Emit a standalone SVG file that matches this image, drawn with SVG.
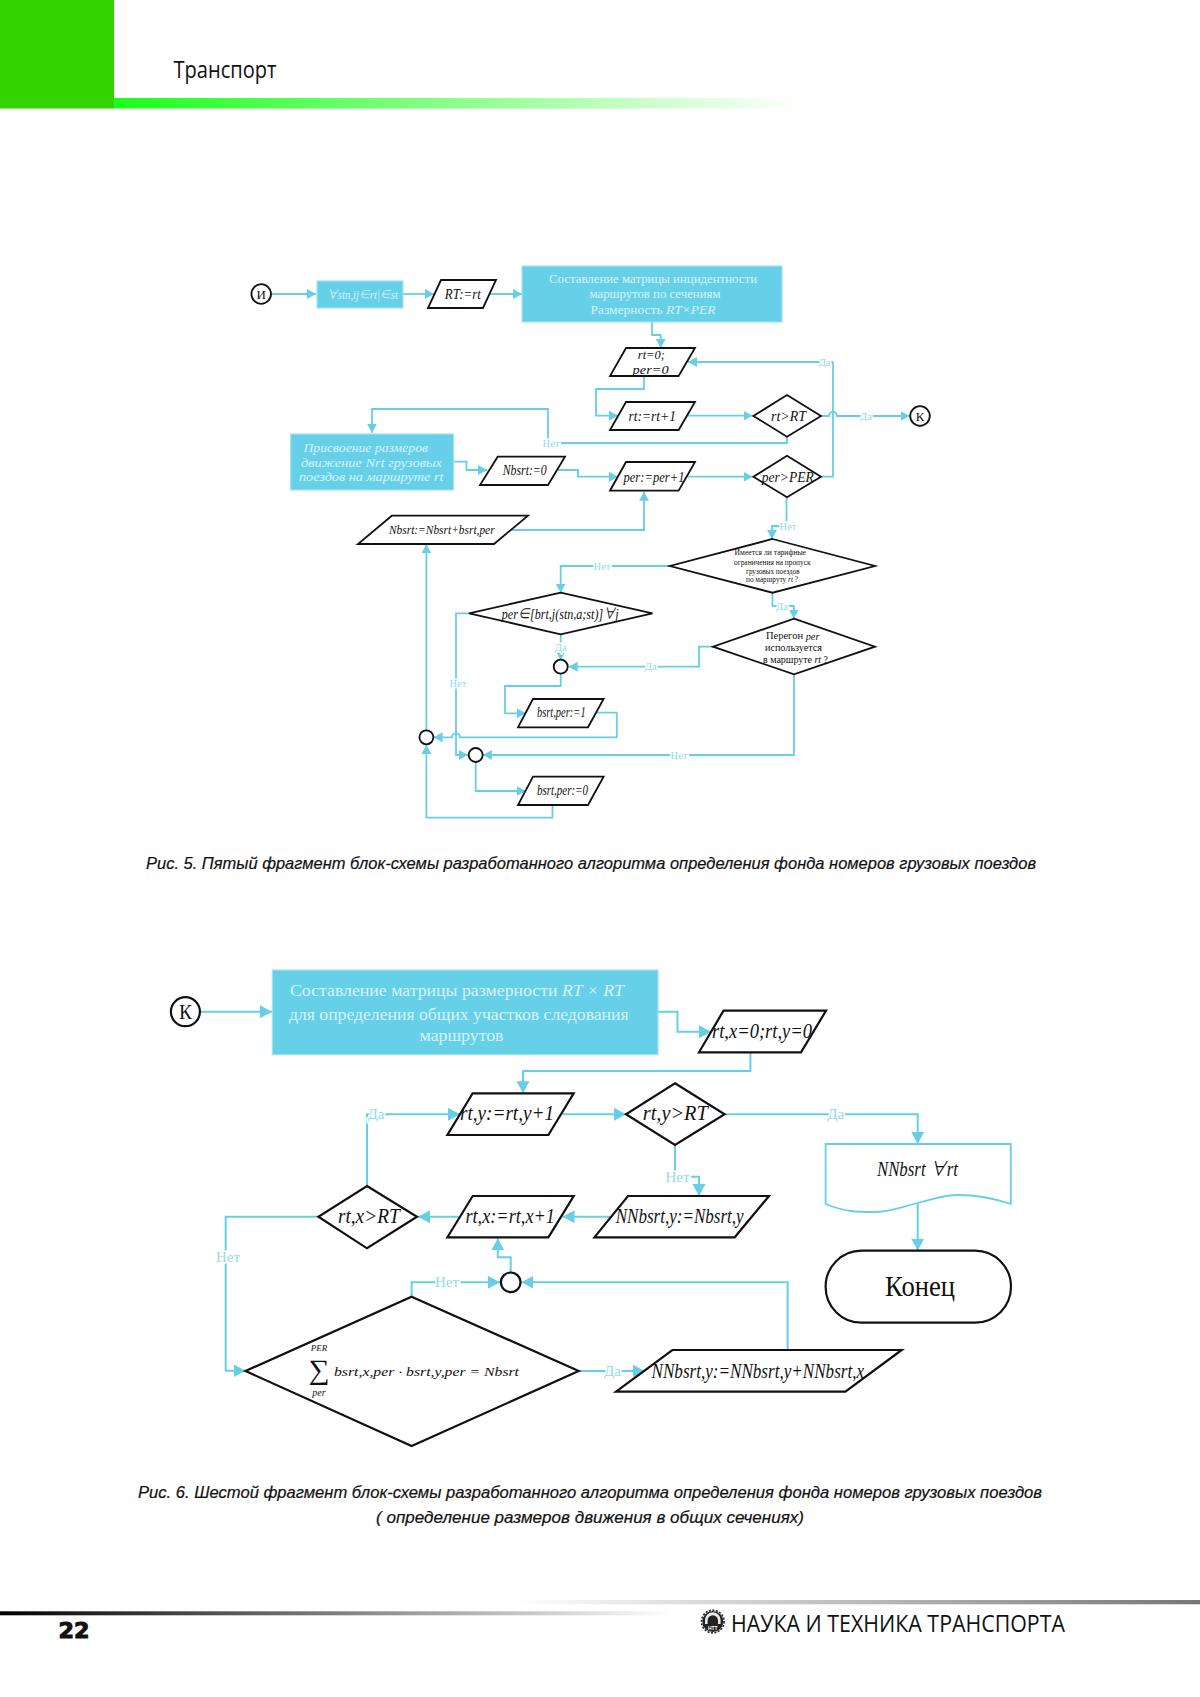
<svg xmlns="http://www.w3.org/2000/svg" width="1200" height="1697" viewBox="0 0 1200 1697">
<style>
text{font-family:"Liberation Serif","Noto Sans CJK SC",serif;fill:#111;text-anchor:middle;dominant-baseline:central}
.n{fill:#fff;stroke:#111;stroke-width:1.8;stroke-linejoin:miter}
.n2{fill:#fff;stroke:#111;stroke-width:2.2;stroke-linejoin:miter}
.b{fill:#66d0e8;stroke:#a3e2f0;stroke-width:1.2}
.c{fill:none;stroke:#66cfe6;stroke-width:1.8;marker-end:url(#a)}
.c0{fill:none;stroke:#66cfe6;stroke-width:1.8}
.d{fill:none;stroke:#66cfe6;stroke-width:2;marker-end:url(#a2)}
.i{font-style:italic}
.w{fill:#d8f3f9}
.l{fill:#93dbeb;stroke:#fff;stroke-width:3;paint-order:stroke}
.cap{font-family:"Liberation Sans",Arial,sans-serif;font-style:italic;font-size:16.500px;fill:#111;stroke:#111;stroke-width:0.2}
</style>
<defs>
<marker id="a" markerUnits="userSpaceOnUse" markerWidth="12" markerHeight="12" refX="9" refY="5" orient="auto"><path d="M0 0L9 5L0 10Z" fill="#66cfe6"/></marker>
<marker id="a2" markerUnits="userSpaceOnUse" markerWidth="14" markerHeight="14" refX="12" refY="6.5" orient="auto"><path d="M0 0L12 6.5L0 13Z" fill="#66cfe6"/></marker>
<linearGradient id="gg"><stop offset="0" stop-color="#1aff1a"/><stop offset="1" stop-color="#fff"/></linearGradient>
<linearGradient id="gb"><stop offset="0" stop-color="#000"/><stop offset="1" stop-color="#fff"/></linearGradient>
<linearGradient id="gr"><stop offset="0" stop-color="#fff"/><stop offset="1" stop-color="#777"/></linearGradient>
</defs>

<g id="page">
<rect x="0" y="0" width="114" height="108.500" fill="#33d400"/>
<rect x="114" y="98" width="686" height="10.500" fill="url(#gg)"/>
<text x="225" y="68" style="font-family:'Open Sans',sans-serif;font-size:24px" textLength="103" lengthAdjust="spacingAndGlyphs">Транспорт</text>
<rect x="0" y="1611.300" width="673" height="4" fill="url(#gb)"/>
<rect x="513" y="1600" width="687" height="4.300" fill="url(#gr)"/>
<text x="74" y="1630" style="font-family:'DejaVu Sans',sans-serif;font-weight:bold;font-size:22px" stroke="#111" stroke-width="1" textLength="31" lengthAdjust="spacingAndGlyphs">22</text>
<g id="logo">
<circle cx="712.800" cy="1621.600" r="10.500" fill="#222"/>
<circle cx="712.800" cy="1621.600" r="11.300" fill="none" stroke="#222" stroke-width="1.600" stroke-dasharray="2 1.500"/>
<path d="M705 1624V1620a7.800 7.800 0 0 1 15.600 0V1624H718V1620.500a5.200 5.200 0 0 0-10.400 0V1624Z" fill="#e8e8e8"/>
<text x="712.800" y="1628" style="font-family:'Liberation Sans',sans-serif;font-size:5px;font-weight:bold;fill:#fff">НТТ</text>
</g>
<text x="898" y="1622" style="font-family:'Open Sans',sans-serif;font-size:24px" textLength="334" lengthAdjust="spacingAndGlyphs">НАУКА И ТЕХНИКА ТРАНСПОРТА</text>
<text class="cap" x="591" y="863" textLength="890" lengthAdjust="spacingAndGlyphs">Рис. 5. Пятый фрагмент блок-схемы разработанного алгоритма определения фонда номеров грузовых поездов</text>
<text class="cap" x="590" y="1491.700" textLength="904" lengthAdjust="spacingAndGlyphs">Рис. 6. Шестой фрагмент блок-схемы разработанного алгоритма определения фонда номеров грузовых поездов</text>
<text class="cap" x="590" y="1516.700" textLength="428" lengthAdjust="spacingAndGlyphs">( определение размеров движения в общих сечениях)</text>
</g>

<g id="connectors">
<path class="c" d="M271 294H316"/>
<path class="c" d="M403 294H434"/>
<path class="c" d="M489 294H522"/>
<path class="c" d="M652 322V335H660.700V348"/>
<path class="c" d="M833 362H688"/>
<path class="c0" d="M833 362V476.700H817"/>
<path class="c" d="M644 376V389H596V415.700H618"/>
<path class="c" d="M687 415.700H752.500"/>
<path class="c" d="M821 416H829A4 4 0 0 1 837 416H909.500"/>
<path class="c" d="M787 436.700V443H548V409H372V432.700"/>
<path class="c" d="M453.600 461.700H466.500V470H487"/>
<path class="c" d="M558 470H578V476.700H618"/>
<path class="c" d="M684 476.700H752.500"/>
<path class="c" d="M786.500 497.300V526H772V539"/>
<path class="c" d="M670 566H560.700V592.700"/>
<path class="c" d="M772.500 592.700V606H793.800V618.500"/>
<path class="c" d="M713 646.700H699V666.700H568.600"/>
<path class="c" d="M560.700 634.300V660"/>
<path class="c" d="M560.700 673.500V686H505V713.300H525.700"/>
<path class="c" d="M595 712.700H616.800V737.300H460A4 4 0 0 0 452 737.300H433.600"/>
<path class="c" d="M426.400 730.500V544.300"/>
<path class="c" d="M511.400 530H644V491.700"/>
<path class="c" d="M469 613.300H456V755H467.900"/>
<path class="c" d="M794 674.300V755H482.900"/>
<path class="c" d="M475.700 762V791H525.700"/>
<path class="c" d="M552.500 805V817.700H426.400V745"/>

<path class="d" d="M200 1011.700H272"/>
<path class="d" d="M658 1011.700H677.500V1031.700H711"/>
<path class="d" d="M750.400 1052.300V1071H523V1093.300"/>
<path class="d" d="M562.500 1114.300H626"/>
<path class="d" d="M724.600 1114.300H917.700V1144"/>
<path class="d" d="M917.700 1203V1250.700"/>
<path class="d" d="M675 1145V1176.700H699V1196"/>
<path class="d" d="M610 1216.700H562.500"/>
<path class="d" d="M458.600 1216.700H418"/>
<path class="d" d="M367 1186V1114.300H460"/>
<path class="d" d="M318.400 1216.700H225.700V1370.700H245.500"/>
<path class="d" d="M411.600 1296.700V1282.300H500"/>
<path class="d" d="M510.700 1272V1257.300H497.800V1238.300"/>
<path class="d" d="M787.600 1350V1282.300H521.400"/>
<path class="d" d="M578.700 1371H644.600"/>
</g>

<g id="edge-labels" style="font-size:10.500px">
<text class="l" x="824.600" y="362.700">Да</text>
<text class="l" x="866" y="416">Да</text>
<text class="l" x="551" y="443">Нет</text>
<text class="l" x="788" y="526">Нет</text>
<text class="l" x="602" y="566">Нет</text>
<text class="l" x="782" y="606">Да</text>
<text class="l" x="560.700" y="647.700">Да</text>
<text class="l" x="650.700" y="666.700">Да</text>
<text class="l" x="457.900" y="683.700">Нет</text>
<text class="l" x="679" y="755">Нет</text>
<g style="font-size:15px">
<text class="l" x="376" y="1114.300">Да</text>
<text class="l" x="835.700" y="1114.300">Да</text>
<text class="l" x="677.500" y="1177">Нет</text>
<text class="l" x="228" y="1257">Нет</text>
<text class="l" x="447" y="1282.300">Нет</text>
<text class="l" x="612.400" y="1371">Да</text>
</g>
</g>

<g id="n-start"><circle class="n" cx="261.200" cy="294" r="9.800"/><text x="261.200" y="294" style="font-size:13px">И</text></g>
<g id="n-forall"><rect class="b" x="317" y="281" width="86" height="27"/><text class="i w" x="362.500" y="294" style="font-size:13px" textLength="71" lengthAdjust="spacingAndGlyphs">∀stп,ij∈rt|∈st</text></g>
<g id="n-rt"><path class="n" d="M441 280H496L483 308H428Z"/><text class="i" x="462.800" y="294" style="font-size:14.500px" textLength="36" lengthAdjust="spacingAndGlyphs">RT:=rt</text></g>
<g id="n-matrix"><rect class="b" x="522" y="266" width="260" height="56"/>
<text class="w" x="653" y="278.500" style="font-size:13.500px" textLength="208" lengthAdjust="spacingAndGlyphs">Составление матрицы инцидентности</text>
<text class="w" x="655" y="293" style="font-size:13.500px" textLength="131" lengthAdjust="spacingAndGlyphs">маршрутов по сечениям</text>
<text class="w" x="653" y="309" style="font-size:13.500px" textLength="125" lengthAdjust="spacingAndGlyphs">Размерность <tspan class="i">RT×PER</tspan></text></g>
<g id="n-init"><path class="n" d="M626 348H695L678.600 376H610Z"/><text class="i" x="651.300" y="354" style="font-size:13px" textLength="27" lengthAdjust="spacingAndGlyphs">rt=0;</text><text class="i" x="650.600" y="369.500" style="font-size:13px" textLength="36" lengthAdjust="spacingAndGlyphs">per=0</text></g>
<g id="n-rtinc"><path class="n" d="M626 402H695L678.600 430H610Z"/><text class="i" x="652.200" y="415.200" style="font-size:15.500px" textLength="47.500" lengthAdjust="spacingAndGlyphs">rt:=rt+1</text></g>
<g id="n-rtgt"><path class="n" d="M787 395L821 416L787 436.700L753.400 416Z"/><text class="i" x="788.500" y="415.500" style="font-size:15.500px" textLength="35" lengthAdjust="spacingAndGlyphs">rt&gt;RT</text></g>
<g id="n-k1"><circle class="n" cx="920" cy="416" r="9.800"/><text x="920" y="416" style="font-size:13px">К</text></g>
<g id="n-assign"><rect class="b" x="290.600" y="434" width="163" height="56"/>
<text class="i w" x="365.700" y="447.200" style="font-size:13px" textLength="124.500" lengthAdjust="spacingAndGlyphs">Присвоение размеров</text>
<text class="i w" x="371.500" y="462.200" style="font-size:13px" textLength="141" lengthAdjust="spacingAndGlyphs">движение  Nrt грузовых</text>
<text class="i w" x="371.200" y="476.700" style="font-size:13px" textLength="144.500" lengthAdjust="spacingAndGlyphs">поездов на маршруте rt</text></g>
<g id="n-nb0"><path class="n" d="M497.700 456.700H565L548 485H480Z"/><text class="i" x="524.700" y="470.200" style="font-size:14px" textLength="44" lengthAdjust="spacingAndGlyphs">Nbsrt:=0</text></g>
<g id="n-perinc"><path class="n" d="M626 462H695L678.600 490.700H610Z"/><text class="i" x="654" y="476.200" style="font-size:15.500px" textLength="61" lengthAdjust="spacingAndGlyphs">per:=per+1</text></g>
<g id="n-pergt"><path class="n" d="M787 455.700L821 476.700L787 497.300L753.400 476.700Z"/><text class="i" x="787.800" y="476.200" style="font-size:15.500px" textLength="52" lengthAdjust="spacingAndGlyphs">per&gt;PER</text></g>
<g id="n-nbsum"><path class="n" d="M391.800 515.700H528L494 544H358Z"/><text class="i" x="441.800" y="529.500" style="font-size:13.500px" textLength="105.600" lengthAdjust="spacingAndGlyphs">Nbsrt:=Nbsrt+bsrt,per</text></g>
<g id="n-tariff"><path class="n" d="M772.500 539L875 566L772.500 592.700L670 566Z"/>
<text x="770.300" y="552.300" style="font-size:7.500px" textLength="71.400" lengthAdjust="spacingAndGlyphs">Имеется ли тарифные</text>
<text x="772.300" y="562" style="font-size:7.500px" textLength="76.700" lengthAdjust="spacingAndGlyphs">ограничения на пропуск</text>
<text x="772.800" y="571" style="font-size:7.500px" textLength="53.600" lengthAdjust="spacingAndGlyphs">грузовых поездов</text>
<text x="772" y="579.300" style="font-size:7.500px" textLength="52" lengthAdjust="spacingAndGlyphs">по маршруту <tspan class="i">rt</tspan> ?</text></g>
<g id="n-perin"><path class="n" d="M560.700 592.700L652.500 613.300L560.700 634.300L469 613.300Z"/><text class="i" x="560.200" y="613.500" style="font-size:15.500px" textLength="116.800" lengthAdjust="spacingAndGlyphs">per∈[brt,j(stn,a;st)]∀j</text></g>
<g id="n-peregon"><path class="n" d="M794 618.700L875 646.700L794 674.300L713 646.700Z"/>
<text x="792.800" y="635.700" style="font-size:10.500px" textLength="53.600" lengthAdjust="spacingAndGlyphs">Перегон <tspan class="i">per</tspan></text>
<text x="793.500" y="647" style="font-size:10.500px" textLength="57" lengthAdjust="spacingAndGlyphs">используется</text>
<text x="795.500" y="659" style="font-size:10.500px" textLength="65" lengthAdjust="spacingAndGlyphs">в маршруте <tspan class="i">rt</tspan> ?</text></g>
<g id="n-j1"><circle class="n" cx="560.700" cy="666.700" r="7"/></g>
<g id="n-b1"><path class="n" d="M533 699H603.600L588 727.300H518Z"/><text class="i" x="561.300" y="712.500" style="font-size:14px" textLength="48.700" lengthAdjust="spacingAndGlyphs">bsrt,per:=1</text></g>
<g id="n-j2"><circle class="n" cx="426.400" cy="737.300" r="7"/></g>
<g id="n-j3"><circle class="n" cx="475.700" cy="755" r="7"/></g>
<g id="n-b0"><path class="n" d="M533 776.700H603.600L588 805H518Z"/><text class="i" x="562.500" y="790.500" style="font-size:14px" textLength="51" lengthAdjust="spacingAndGlyphs">bsrt,per:=0</text></g>

<g id="n-k2"><circle class="n2" cx="185.400" cy="1011.700" r="14.500"/><text x="185.400" y="1011.200" style="font-size:22px" textLength="13" lengthAdjust="spacingAndGlyphs">К</text></g>
<g id="n-matrix2"><rect class="b" x="272.300" y="970" width="385.700" height="84.700"/>
<text class="w" x="457" y="990" style="font-size:17.500px" textLength="334" lengthAdjust="spacingAndGlyphs">Составление матрицы размерности  <tspan class="i">RT × RT</tspan></text>
<text class="w" x="458.800" y="1013.500" style="font-size:17.500px" textLength="339.700" lengthAdjust="spacingAndGlyphs">для определения общих участков следования</text>
<text class="w" x="461.500" y="1034.500" style="font-size:17.500px" textLength="84" lengthAdjust="spacingAndGlyphs">маршрутов</text></g>
<g id="n-xy0"><path class="n2" d="M723.500 1010.700H826L801 1052.300H699Z"/><text class="i" x="762" y="1031" style="font-size:21px" textLength="100" lengthAdjust="spacingAndGlyphs">rt,x=0;rt,y=0</text></g>
<g id="n-yinc"><path class="n2" d="M472.700 1093.300H573.700L548.400 1135H447.400Z"/><text class="i" x="507" y="1113" style="font-size:21px" textLength="94" lengthAdjust="spacingAndGlyphs">rt,y:=rt,y+1</text></g>
<g id="n-ygt"><path class="n2" d="M675 1083.300L724.600 1114.300L675 1145L626 1114.300Z"/><text class="i" x="675.300" y="1113" style="font-size:21px" textLength="65" lengthAdjust="spacingAndGlyphs">rt,y&gt;RT</text></g>
<g id="n-doc"><path d="M825.600 1144H1010.800V1204C990 1197 972 1195 958 1195S938 1198 917.700 1203S890 1212 874 1212S845 1212 825.600 1204Z" fill="#fff" stroke="#66cfe6" stroke-width="1.800"/><text class="i" x="917.400" y="1169" style="font-size:20px" textLength="81" lengthAdjust="spacingAndGlyphs">NNbsrt ∀rt</text></g>
<g id="n-end"><rect class="n2" x="825.600" y="1250.700" width="185.400" height="72" rx="36" ry="36"/><text x="920" y="1285.500" style="font-size:30px" textLength="70" lengthAdjust="spacingAndGlyphs">Конец</text></g>
<g id="n-nn"><path class="n2" d="M628 1196H769L734.700 1237.300H594.400Z"/><text class="i" x="679.700" y="1216" style="font-size:20px" textLength="128" lengthAdjust="spacingAndGlyphs">NNbsrt,y:=Nbsrt,y</text></g>
<g id="n-xinc"><path class="n2" d="M472.700 1196H573.700L548.400 1237.300H447.400Z"/><text class="i" x="510.200" y="1216" style="font-size:21px" textLength="89.600" lengthAdjust="spacingAndGlyphs">rt,x:=rt,x+1</text></g>
<g id="n-xgt"><path class="n2" d="M367 1186L417 1216.700L367 1248.300L318.400 1216.700Z"/><text class="i" x="368.800" y="1216" style="font-size:21px" textLength="61.700" lengthAdjust="spacingAndGlyphs">rt,x&gt;RT</text></g>
<g id="n-sum"><path class="n2" d="M411.600 1296.700L578.700 1371L411.600 1446L245.500 1371Z"/>
<text class="i" x="319" y="1347.500" style="font-size:9px">PER</text>
<text x="319" y="1369.500" style="font-size:28px" textLength="21" lengthAdjust="spacingAndGlyphs">∑</text>
<text class="i" x="319" y="1392.500" style="font-size:10px">per</text>
<text class="i" x="426.500" y="1372" style="font-size:12px" textLength="185" lengthAdjust="spacingAndGlyphs">bsrt,x,per · bsrt,y,per = Nbsrt</text></g>
<g id="n-j4"><circle class="n2" cx="510.700" cy="1282.300" r="9.800"/></g>
<g id="n-nnsum"><path class="n2" d="M672.400 1350H901.700L845.400 1391.700H616Z"/><text class="i" x="757.800" y="1371" style="font-size:20px" textLength="212.500" lengthAdjust="spacingAndGlyphs">NNbsrt,y:=NNbsrt,y+NNbsrt,x</text></g>
</svg>
